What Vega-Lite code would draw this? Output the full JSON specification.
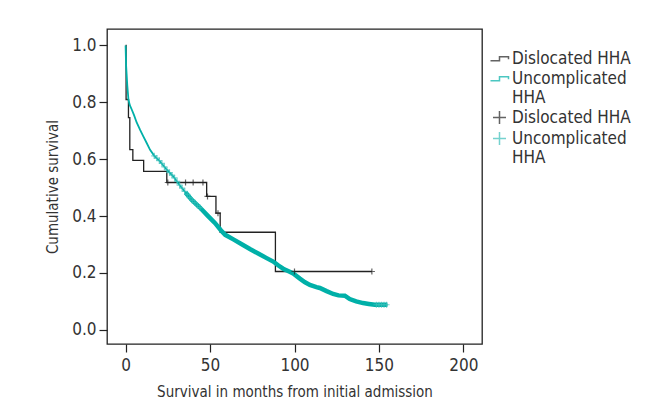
{
  "$schema": "https://vega.github.io/schema/vega-lite/v6.json",
  "width": 375,
  "height": 315,
  "autosize": "none",
  "padding": {"left": 107, "top": 29, "right": 171, "bottom": 71},
  "background": "white",
  "config": {
    "font": "Liberation Sans Narrow, DejaVu Sans Condensed, Roboto Condensed, Arial",
    "view": {"stroke": "#222", "strokeWidth": 1.3},
    "axis": {
      "domain": false, "grid": false, "tickColor": "#222", "tickSize": 8, "tickWidth": 1.2,
      "labelFontSize": 17, "labelColor": "#333", "titleFontSize": 15, "titleFontWeight": "normal", "titleColor": "#333"
    },
    "legend": {"labelFontSize": 17, "labelColor": "#333", "symbolSize": 100, "symbolStrokeWidth": 1.5}
  },
  "datasets": {
    "lines": [
      {"series": "Dislocated HHA", "month": 0, "surv": 1.0},
      {"series": "Dislocated HHA", "month": 0.3, "surv": 0.81},
      {"series": "Dislocated HHA", "month": 1.7, "surv": 0.746},
      {"series": "Dislocated HHA", "month": 2.5, "surv": 0.634},
      {"series": "Dislocated HHA", "month": 4.3, "surv": 0.596},
      {"series": "Dislocated HHA", "month": 10.7, "surv": 0.557},
      {"series": "Dislocated HHA", "month": 24.4, "surv": 0.518},
      {"series": "Dislocated HHA", "month": 48, "surv": 0.469},
      {"series": "Dislocated HHA", "month": 53.5, "surv": 0.41},
      {"series": "Dislocated HHA", "month": 56, "surv": 0.343},
      {"series": "Dislocated HHA", "month": 88.7, "surv": 0.205},
      {"series": "Dislocated HHA", "month": 145.8, "surv": 0.205},
      {"series": "Uncomplicated HHA", "month": 0, "surv": 1.0},
      {"series": "Uncomplicated HHA", "month": 0.3, "surv": 0.93},
      {"series": "Uncomplicated HHA", "month": 0.6, "surv": 0.9},
      {"series": "Uncomplicated HHA", "month": 1, "surv": 0.86},
      {"series": "Uncomplicated HHA", "month": 1.7, "surv": 0.81},
      {"series": "Uncomplicated HHA", "month": 2.5, "surv": 0.79},
      {"series": "Uncomplicated HHA", "month": 3.7, "surv": 0.774},
      {"series": "Uncomplicated HHA", "month": 5, "surv": 0.755},
      {"series": "Uncomplicated HHA", "month": 6.5, "surv": 0.73},
      {"series": "Uncomplicated HHA", "month": 8.6, "surv": 0.703},
      {"series": "Uncomplicated HHA", "month": 10.5, "surv": 0.68},
      {"series": "Uncomplicated HHA", "month": 12.5, "surv": 0.657},
      {"series": "Uncomplicated HHA", "month": 14.5, "surv": 0.633},
      {"series": "Uncomplicated HHA", "month": 17, "surv": 0.612},
      {"series": "Uncomplicated HHA", "month": 20.4, "surv": 0.592},
      {"series": "Uncomplicated HHA", "month": 24.4, "surv": 0.563},
      {"series": "Uncomplicated HHA", "month": 28.3, "surv": 0.539},
      {"series": "Uncomplicated HHA", "month": 31.8, "surv": 0.51},
      {"series": "Uncomplicated HHA", "month": 35.5, "surv": 0.483},
      {"series": "Uncomplicated HHA", "month": 39.2, "surv": 0.457},
      {"series": "Uncomplicated HHA", "month": 44, "surv": 0.43},
      {"series": "Uncomplicated HHA", "month": 49, "surv": 0.399},
      {"series": "Uncomplicated HHA", "month": 53, "surv": 0.375},
      {"series": "Uncomplicated HHA", "month": 56.4, "surv": 0.35},
      {"series": "Uncomplicated HHA", "month": 59, "surv": 0.334},
      {"series": "Uncomplicated HHA", "month": 63.8, "surv": 0.318},
      {"series": "Uncomplicated HHA", "month": 68.5, "surv": 0.302},
      {"series": "Uncomplicated HHA", "month": 73.6, "surv": 0.284},
      {"series": "Uncomplicated HHA", "month": 78.5, "surv": 0.268},
      {"series": "Uncomplicated HHA", "month": 83.5, "surv": 0.252},
      {"series": "Uncomplicated HHA", "month": 87.4, "surv": 0.24},
      {"series": "Uncomplicated HHA", "month": 90.5, "surv": 0.226},
      {"series": "Uncomplicated HHA", "month": 93.3, "surv": 0.215},
      {"series": "Uncomplicated HHA", "month": 96.5, "surv": 0.206},
      {"series": "Uncomplicated HHA", "month": 99.2, "surv": 0.198},
      {"series": "Uncomplicated HHA", "month": 103.2, "surv": 0.18},
      {"series": "Uncomplicated HHA", "month": 106, "surv": 0.168},
      {"series": "Uncomplicated HHA", "month": 109.1, "surv": 0.158},
      {"series": "Uncomplicated HHA", "month": 113, "surv": 0.15},
      {"series": "Uncomplicated HHA", "month": 115, "surv": 0.147},
      {"series": "Uncomplicated HHA", "month": 119, "surv": 0.136},
      {"series": "Uncomplicated HHA", "month": 122.9, "surv": 0.126},
      {"series": "Uncomplicated HHA", "month": 126, "surv": 0.121},
      {"series": "Uncomplicated HHA", "month": 129.8, "surv": 0.12},
      {"series": "Uncomplicated HHA", "month": 132.7, "surv": 0.108},
      {"series": "Uncomplicated HHA", "month": 136.5, "surv": 0.1},
      {"series": "Uncomplicated HHA", "month": 140.6, "surv": 0.094},
      {"series": "Uncomplicated HHA", "month": 144, "surv": 0.091},
      {"series": "Uncomplicated HHA", "month": 147.5, "surv": 0.088},
      {"series": "Uncomplicated HHA", "month": 155, "surv": 0.088}
    ],
    "censor": [
      {"series": "Dislocated HHA censored", "month": 25, "surv": 0.518},
      {"series": "Dislocated HHA censored", "month": 35.5, "surv": 0.518},
      {"series": "Dislocated HHA censored", "month": 40, "surv": 0.518},
      {"series": "Dislocated HHA censored", "month": 45.8, "surv": 0.518},
      {"series": "Dislocated HHA censored", "month": 48.5, "surv": 0.469},
      {"series": "Dislocated HHA censored", "month": 54.7, "surv": 0.41},
      {"series": "Dislocated HHA censored", "month": 100, "surv": 0.205},
      {"series": "Dislocated HHA censored", "month": 145.8, "surv": 0.205},
      {"series": "Uncomplicated HHA censored", "month": 17, "surv": 0.612},
      {"series": "Uncomplicated HHA censored", "month": 18.5, "surv": 0.604},
      {"series": "Uncomplicated HHA censored", "month": 20, "surv": 0.595},
      {"series": "Uncomplicated HHA censored", "month": 21.5, "surv": 0.585},
      {"series": "Uncomplicated HHA censored", "month": 23, "surv": 0.573},
      {"series": "Uncomplicated HHA censored", "month": 24.5, "surv": 0.562},
      {"series": "Uncomplicated HHA censored", "month": 26, "surv": 0.553},
      {"series": "Uncomplicated HHA censored", "month": 27.5, "surv": 0.544},
      {"series": "Uncomplicated HHA censored", "month": 29, "surv": 0.534},
      {"series": "Uncomplicated HHA censored", "month": 30.5, "surv": 0.522},
      {"series": "Uncomplicated HHA censored", "month": 32, "surv": 0.509},
      {"series": "Uncomplicated HHA censored", "month": 33.5, "surv": 0.498},
      {"series": "Uncomplicated HHA censored", "month": 35, "surv": 0.487},
      {"series": "Uncomplicated HHA censored", "month": 36.5, "surv": 0.476},
      {"series": "Uncomplicated HHA censored", "month": 38, "surv": 0.465},
      {"series": "Uncomplicated HHA censored", "month": 39.5, "surv": 0.455},
      {"series": "Uncomplicated HHA censored", "month": 41, "surv": 0.447},
      {"series": "Uncomplicated HHA censored", "month": 42.5, "surv": 0.438},
      {"series": "Uncomplicated HHA censored", "month": 44, "surv": 0.43},
      {"series": "Uncomplicated HHA censored", "month": 148.5, "surv": 0.088},
      {"series": "Uncomplicated HHA censored", "month": 150, "surv": 0.088},
      {"series": "Uncomplicated HHA censored", "month": 151.5, "surv": 0.088},
      {"series": "Uncomplicated HHA censored", "month": 153, "surv": 0.088},
      {"series": "Uncomplicated HHA censored", "month": 154.5, "surv": 0.088}
    ]
  },
  "encoding": {
    "x": {
      "field": "month", "type": "quantitative",
      "scale": {"domain": [-11, 211], "nice": false, "zero": false},
      "axis": {"values": [0, 50, 100, 150, 200], "title": "Survival in months from initial admission", "labelPadding": 5, "titlePadding": 11}
    },
    "y": {
      "field": "surv", "type": "quantitative",
      "scale": {"domain": [-0.05, 1.058], "nice": false, "zero": false},
      "axis": {"values": [0, 0.2, 0.4, 0.6, 0.8, 1.0], "format": ".1f", "title": "Cumulative survival", "labelPadding": 3, "titlePadding": 11}
    },
    "color": {
      "field": "series", "type": "nominal",
      "scale": {
        "domain": ["Dislocated HHA", "Uncomplicated HHA", "Dislocated HHA censored", "Uncomplicated HHA censored"],
        "range": ["#222222", "#00b0a8", "#222222", "#3cc0ba"]
      },
      "legend": {
        "title": null, "orient": "none", "legendX": 384, "legendY": 21,
        "labelExpr": "indexof(datum.label, 'Uncomplicated') == 0 ? ['Uncomplicated', 'HHA'] : 'Dislocated HHA'",
        "labelOffset": 4, "rowPadding": 2, "padding": 0
      }
    }
  },
  "layer": [
    {
      "data": {"name": "lines"},
      "transform": [{"filter": "datum.series == 'Dislocated HHA'"}],
      "mark": {"type": "line", "interpolate": "step-after", "strokeWidth": 1.3}
    },
    {
      "data": {"name": "lines"},
      "transform": [{"filter": "datum.series == 'Uncomplicated HHA'"}],
      "mark": {"type": "line", "interpolate": "linear", "strokeWidth": 1.8}
    },
    {
      "data": {"name": "lines"},
      "transform": [{"filter": "datum.series == 'Uncomplicated HHA' && datum.month >= 35"}],
      "mark": {"type": "line", "interpolate": "linear", "strokeWidth": 4.5}
    },
    {
      "data": {"name": "censor"},
      "mark": {"type": "point", "filled": false, "strokeWidth": 1.2, "size": 22},
      "encoding": {
        "shape": {
          "field": "series", "type": "nominal",
          "scale": {
            "domain": ["Dislocated HHA", "Uncomplicated HHA", "Dislocated HHA censored", "Uncomplicated HHA censored"],
            "range": ["M-1.8,0.45H0V-0.35H1.8V0.15", "M-1.8,0.45H0V-0.35H1.8V0.15", "M-1.3,0H1.3M0,-1.3V1.3", "M-1.3,0H1.3M0,-1.3V1.3"]
          },
          "legend": {
            "title": null, "orient": "none", "legendX": 384, "legendY": 21,
            "labelExpr": "indexof(datum.label, 'Uncomplicated') == 0 ? ['Uncomplicated', 'HHA'] : 'Dislocated HHA'",
            "labelOffset": 4, "rowPadding": 2, "padding": 0
          }
        }
      }
    }
  ]
}
